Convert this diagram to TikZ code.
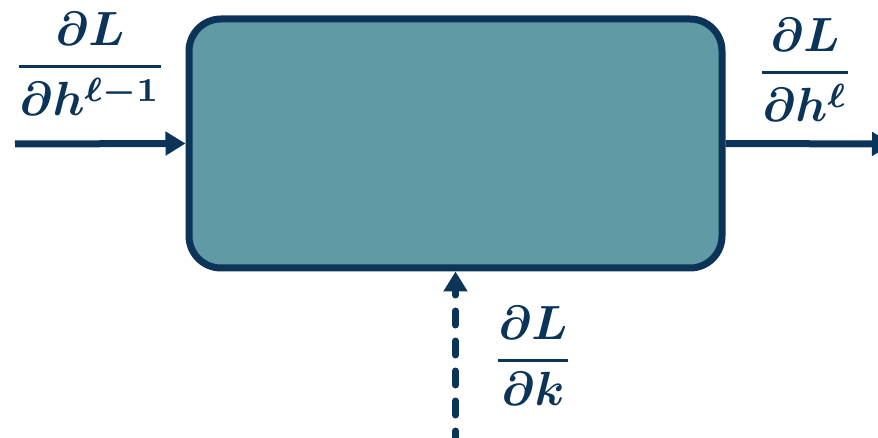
\documentclass[tikz,border=0pt]{standalone}
\usepackage{amsmath,bm}
\usetikzlibrary{arrows.meta}
\definecolor{navy}{HTML}{0C3458}
\definecolor{tealfill}{HTML}{5F9AA5}
\newcommand{\gfr}[2]{\genfrac{}{}{0.7pt}{0}{#1}{#2}}
\tikzset{
  blockbox/.style={draw=navy, fill=tealfill, line width=7pt, rounded corners=32pt,
    minimum width=533pt, minimum height=249pt, inner sep=0pt},
  flow/.style={draw=navy, line width=7pt, -{Triangle[length=20pt,width=23pt]}},
  dflow/.style={flow, line cap=round, dash pattern=on 14pt off 16pt},
  lbl/.style={text=navy, inner sep=0pt, scale=4.8}
}
\begin{document}
\begin{tikzpicture}[x=1pt,y=-1pt]
\useasboundingbox (0,0) rectangle (878,438);
\clip (0,0) rectangle (878,438);
\node[blockbox] (blk) at (455.5,143.5) {};
\coordinate (inL) at (15,144);
\coordinate (outR) at (892,144);
\coordinate (inB) at (455.5,445);
\draw[flow] (inL) -- (blk.west);
\draw[flow] (blk.east) -- (outR);
\draw[dflow] (inB) -- (blk.south);
\node[lbl] (gl) at (90,64) {$\gfr{\bm{\partial L}}{\bm{\partial h^{\ell-1}}}$};
\node[lbl] (gr) at (805,70) {$\gfr{\bm{\partial L}}{\bm{\partial h^{\ell}}}$};
\node[lbl] (gk) at (533,356) {$\gfr{\bm{\partial L}}{\bm{\partial k}}$};
\end{tikzpicture}
\end{document}
